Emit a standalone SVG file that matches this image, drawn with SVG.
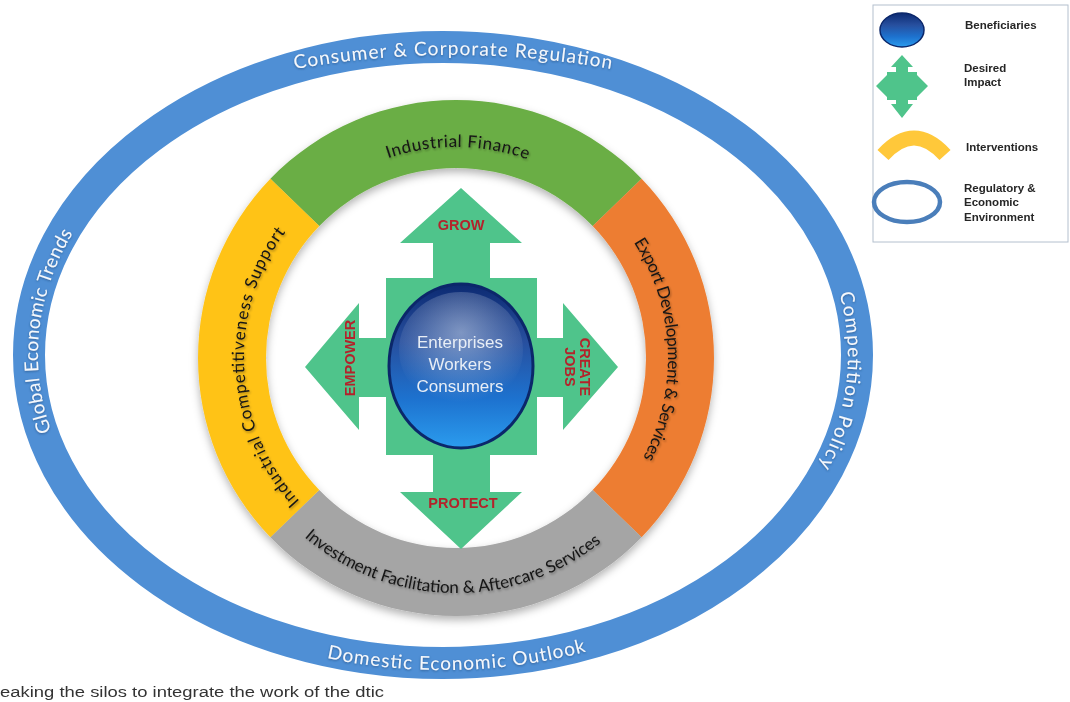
<svg xmlns="http://www.w3.org/2000/svg" width="1070" height="702" viewBox="0 0 1070 702">
  <style>
    .env-text { font-family: Lato, "Open Sans", "Liberation Sans", sans-serif; font-size: 19px; fill: #f5f8fc; }
    .ring-text { font-family: Lato, "Open Sans", "Liberation Sans", sans-serif; font-size: 17px; fill: #151515; }
    .impact { font-family: "Liberation Sans", Arial, sans-serif; font-weight: bold; font-size: 14.5px; fill: #b3232b; }
    .benef { font-family: "Liberation Sans", Arial, sans-serif; font-size: 17px; fill: #e8eef6; text-anchor: middle; }
    .legend-text { font-family: "Liberation Sans", Arial, sans-serif; font-weight: bold; font-size: 11.5px; fill: #262626; }
    .arrow { fill: #4fc48b; }
  </style>
  <defs>
    <linearGradient id="globe" x1="0" y1="0" x2="0" y2="1">
      <stop offset="0" stop-color="#0c2a72"/>
      <stop offset="0.35" stop-color="#274f9e"/>
      <stop offset="0.7" stop-color="#1d72cf"/>
      <stop offset="1" stop-color="#2b9cee"/>
    </linearGradient>
    <radialGradient id="gloss" cx="0.5" cy="0.35" r="0.6">
      <stop offset="0" stop-color="#c9d4e6" stop-opacity="0.55"/>
      <stop offset="1" stop-color="#c9d4e6" stop-opacity="0"/>
    </radialGradient>
    <filter id="soft" x="-10%" y="-10%" width="120%" height="125%">
      <feDropShadow dx="0" dy="4" stdDeviation="4" flood-color="#000" flood-opacity="0.3"/>
    </filter>
    <filter id="glow" x="-5%" y="-5%" width="110%" height="110%">
      <feDropShadow dx="0" dy="1" stdDeviation="1" flood-color="#1d3f6e" flood-opacity="0.6"/>
    </filter>
    <filter id="ink" x="-5%" y="-5%" width="110%" height="115%">
      <feDropShadow dx="1" dy="1.5" stdDeviation="1" flood-color="#000" flood-opacity="0.35"/>
    </filter>
    <!-- text baselines -->
    <path id="envTop" d="M153,106.5 A900,900 0 0 1 753,106.5"/>
    <path id="envLeft" d="M217.7,604.3 A405,300 0 0 1 264.2,85.8"/>
    <path id="envRight" d="M669.5,106.3 A405,300 0 0 1 620.5,624.6"/>
    <path id="envBottom" d="M84.5,523.3 A424,315 0 0 0 818.4,501.4"/>
    <path id="ringTop" d="M274.2,250.9 A211,211 0 0 1 639.7,254.1"/>
    <path id="ringLeft" d="M359.8,546.9 A212,212 0 0 1 340.5,180.2"/>
    <path id="ringRight" d="M553.9,170 A212,212 0 0 1 569.9,536.8"/>
    <path id="ringBottom" d="M251.3,471.4 A233,233 0 0 0 656.6,478.5"/>
  </defs>

  <rect width="1070" height="702" fill="#ffffff"/>

  <!-- regulatory and economic environment -->
  <g id="environment">
    <ellipse cx="443" cy="355" rx="414" ry="308" fill="none" stroke="#4f8fd5" stroke-width="32"/>
    <g filter="url(#glow)">
      <text class="env-text"><textPath href="#envTop" startOffset="50%" text-anchor="middle" textLength="318">Consumer &amp; Corporate Regulation</textPath></text>
      <text class="env-text"><textPath href="#envLeft" startOffset="50%" text-anchor="middle" textLength="206">Global Economic Trends</textPath></text>
      <text class="env-text"><textPath href="#envRight" startOffset="50%" text-anchor="middle" textLength="178">Competition Policy</textPath></text>
      <text class="env-text"><textPath href="#envBottom" startOffset="50%" text-anchor="middle" textLength="262">Domestic Economic Outlook</textPath></text>
    </g>
  </g>

  <!-- interventions ring -->
  <g id="interventions" filter="url(#soft)">
    <g id="industrial-finance">
      <path d="M270.4,178.8 A258,258 0 0 1 641.6,178.8 L592.7,226 A190,190 0 0 0 319.3,226 Z" fill="#6bae45"/>
      <text class="ring-text" filter="url(#ink)"><textPath href="#ringTop" startOffset="50%" text-anchor="middle" textLength="142">Industrial Finance</textPath></text>
    </g>
    <g id="export-development">
      <path d="M641.6,178.8 A258,258 0 0 1 641.6,537.2 L592.7,490 A190,190 0 0 0 592.7,226 Z" fill="#ed7d31"/>
      <text class="ring-text" filter="url(#ink)"><textPath href="#ringRight" startOffset="50%" text-anchor="middle" textLength="226">Export Development  &amp; Services</textPath></text>
    </g>
    <g id="investment-facilitation">
      <path d="M641.6,537.2 A258,258 0 0 1 270.4,537.2 L319.3,490 A190,190 0 0 0 592.7,490 Z" fill="#a5a5a5"/>
      <text class="ring-text" filter="url(#ink)"><textPath href="#ringBottom" startOffset="50%" text-anchor="middle" textLength="322">Investment Facilitation &amp; Aftercare Services</textPath></text>
    </g>
    <g id="competitiveness-support">
      <path d="M270.4,537.2 A258,258 0 0 1 270.4,178.8 L319.3,226 A190,190 0 0 0 319.3,490 Z" fill="#ffc319"/>
      <text class="ring-text" filter="url(#ink)"><textPath href="#ringLeft" startOffset="50%" text-anchor="middle" textLength="292">Industrial Competitiveness  Support</textPath></text>
    </g>
  </g>

  <!-- desired impact -->
  <g id="impact">
    <polygon class="arrow" points="461,188 522,243 490,243 490,278 537,278 537,338 563,338 563,303 618,367 563,430 563,397 537,397 537,455 490,455 490,492 522,492 461,549 400,492 433,492 433,455 386,455 386,397 359,397 359,430 305,367 359,303 359,338 386,338 386,278 433,278 433,243 400,243"/>
    <text class="impact" x="461" y="230" text-anchor="middle">GROW</text>
    <text class="impact" x="463" y="508" text-anchor="middle" font-size="15">PROTECT</text>
    <text class="impact" transform="translate(355,358) rotate(-90)" text-anchor="middle">EMPOWER</text>
    <text class="impact" transform="translate(580,367) rotate(90)" text-anchor="middle">CREATE</text>
    <text class="impact" transform="translate(565,367) rotate(90)" text-anchor="middle">JOBS</text>
  </g>

  <!-- beneficiaries -->
  <g id="beneficiaries">
    <ellipse cx="461" cy="366" rx="72" ry="82" fill="url(#globe)" stroke="#0b276a" stroke-width="3"/>
    <ellipse cx="461" cy="350" rx="62" ry="58" fill="url(#gloss)"/>
    <text class="benef" x="460" y="348">Enterprises</text>
    <text class="benef" x="460" y="370">Workers</text>
    <text class="benef" x="460" y="392">Consumers</text>
  </g>

  <!-- legend -->
  <g id="legend">
    <rect x="873" y="5" width="195" height="237" fill="#ffffff" stroke="#b4c0ce" stroke-width="1"/>
    <g id="legend-beneficiaries">
      <ellipse cx="902" cy="30" rx="22" ry="17" fill="url(#globe)" stroke="#0b276a" stroke-width="1.5"/>
      <text class="legend-text" x="965" y="29">Beneficiaries</text>
    </g>
    <g id="legend-impact">
      <polygon class="arrow" points="902,55 913,67 908,67 908,72 917,72 917,75 928,86 917,97 917,100 908,100 908,104 913,104 902,118 891,104 896,104 896,100 887,100 887,97 876,86 887,75 887,72 896,72 896,67 891,67"/>
      <text class="legend-text" x="964" y="72">Desired</text>
      <text class="legend-text" x="964" y="86">Impact</text>
    </g>
    <g id="legend-interventions">
      <path d="M883,155 Q914,121 945,155" fill="none" stroke="#ffc83a" stroke-width="15"/>
      <text class="legend-text" x="966" y="151">Interventions</text>
    </g>
    <g id="legend-environment">
      <ellipse cx="907" cy="202" rx="33" ry="20" fill="#ffffff" stroke="#4a7eba" stroke-width="4.5"/>
      <text class="legend-text" x="964" y="192">Regulatory &amp;</text>
      <text class="legend-text" x="964" y="206">Economic</text>
      <text class="legend-text" x="964" y="221">Environment</text>
    </g>
  </g>

  <text x="0" y="697" font-family="'Liberation Sans', Arial, sans-serif" font-size="14" fill="#333333" textLength="384" lengthAdjust="spacingAndGlyphs">eaking the silos to integrate the work of the dtic</text>
</svg>
